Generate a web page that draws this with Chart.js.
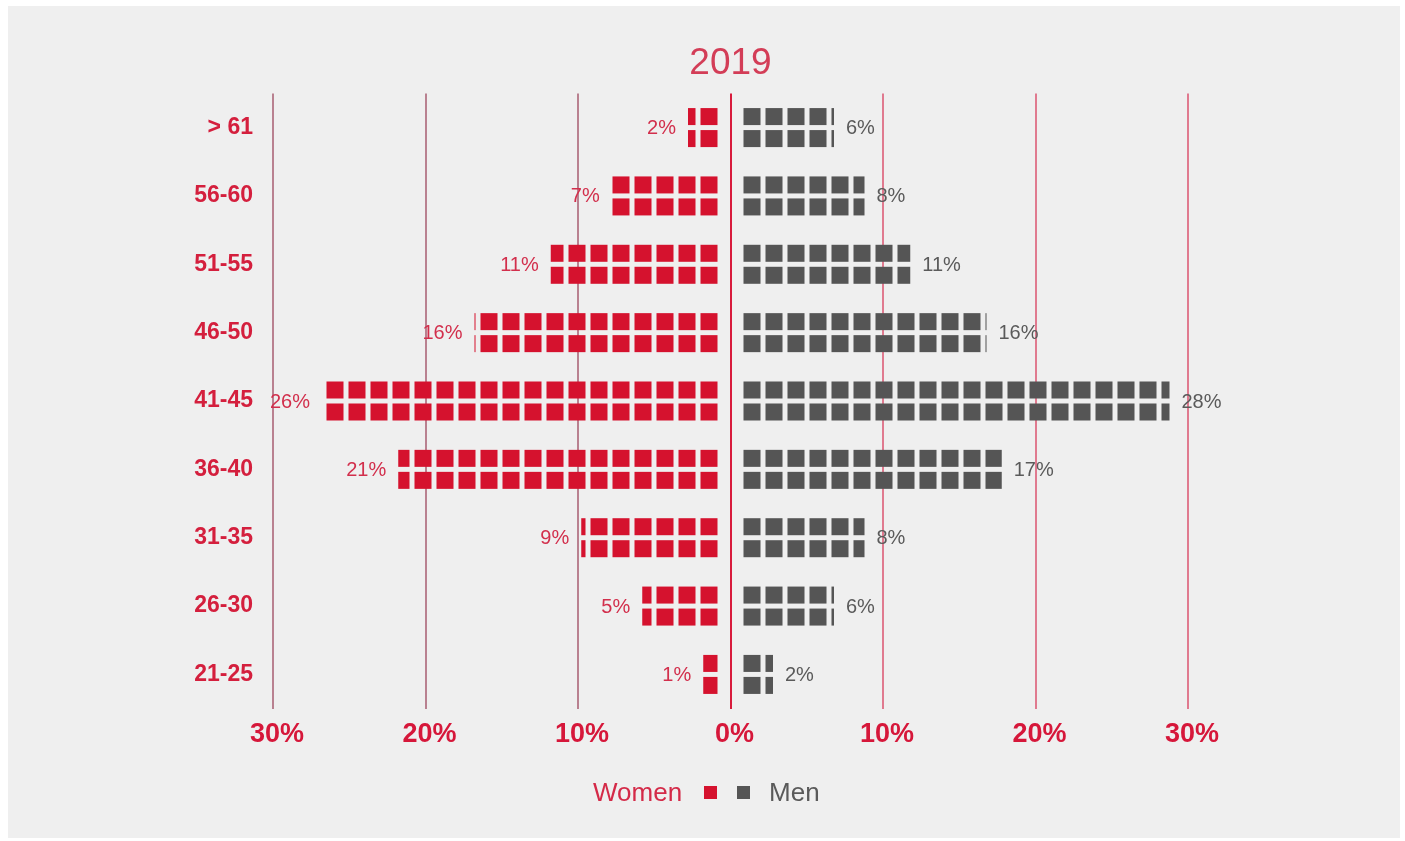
<!DOCTYPE html>
<html>
<head>
<meta charset="utf-8">
<title>2019</title>
<script src="https://cdn.jsdelivr.net/npm/chart.js@4.4.1/dist/chart.umd.min.js"></script>
<style>
  html, body { margin: 0; padding: 0; background: #fff; }
  body { width: 1405px; height: 841px; position: relative; overflow: hidden; font-family: "Liberation Sans", Arial, sans-serif; }
  .panel { position: absolute; left: 8px; top: 6px; width: 1392px; height: 832px; background: #efefef; }
  #pyramid { position: absolute; left: 0; top: 0; }
  .legend { position: absolute; left: 593px; top: 776px; height: 32px; display: flex; align-items: center; font-size: 26px; }
  .legend .women { color: #d42a48; margin-right: 22px; }
  .legend .men { color: #5a5a5a; margin-left: 19px; }
  .legend .sq { width: 13px; height: 13px; display: inline-block; }
</style>
</head>
<body>
<div class="panel"></div>
<canvas id="pyramid" width="1405" height="841"></canvas>
<div class="legend">
  <span class="women">Women</span>
  <span class="sq" style="background:#d5122e; margin-right:20px"></span>
  <span class="sq" style="background:#555"></span>
  <span class="men">Men</span>
</div>

<script>
// age brackets, top to bottom
const ageGroups = ['> 61', '56-60', '51-55', '46-50', '41-45', '36-40', '31-35', '26-30', '21-25'];
// share of staff per bracket, in %
const women = [2, 7, 11, 16, 26, 21, 9, 5, 1];
const men = [6, 8, 11, 16, 28, 17, 8, 6, 2];
const xTicks = [-30, -20, -10, 0, 10, 20, 30];

const FONT = '"Liberation Sans", Arial, sans-serif';
const RED = '#d5122e';
const GREY = '#555555';

// square pictogram geometry
const SQ = 17;       // square side
const PITCH = 22;    // square + gap
const GAP = 12;      // space between the 0% line and the first square
const LABEL_GAP = 12;

// draws every bar as two rows of squares, plus its value label
const pictogram = {
  id: 'pictogram',
  afterDatasetsDraw(chart) {
    const ctx = chart.ctx;
    chart.data.datasets.forEach((ds, di) => {
      const meta = chart.getDatasetMeta(di);
      meta.data.forEach((bar, i) => {
        const { x, y, base, height } = bar.getProps(['x', 'y', 'base', 'height'], true);
        const dir = x < base ? -1 : 1;
        const inner = base + dir * GAP;
        const outer = x + dir * GAP;
        const len = Math.abs(outer - inner);
        const top = y - height / 2;

        ctx.save();
        ctx.fillStyle = ds.squareColor;
        for (let off = 0; off < len; off += PITCH) {
          const w = Math.min(SQ, len - off);
          const sx = dir > 0 ? inner + off : inner - off - w;
          ctx.fillRect(sx, top, w, SQ);
          ctx.fillRect(sx, top + PITCH, w, SQ);
        }

        ctx.fillStyle = ds.labelColor;
        ctx.font = '20px ' + FONT;
        ctx.textAlign = dir > 0 ? 'left' : 'right';
        ctx.textBaseline = 'middle';
        ctx.fillText(Math.abs(ds.data[i]) + '%', outer + dir * LABEL_GAP, y + 1);
        ctx.restore();
      });
    });
  }
};

new Chart(document.getElementById('pyramid'), {
  type: 'bar',
  data: {
    labels: ageGroups,
    datasets: [
      {
        label: 'Women',
        data: women.map(v => -v),
        backgroundColor: 'rgba(0,0,0,0)',
        squareColor: RED,
        labelColor: '#d22f4c',
        barThickness: 39
      },
      {
        label: 'Men',
        data: men,
        backgroundColor: 'rgba(0,0,0,0)',
        squareColor: GREY,
        labelColor: '#5a5a5a',
        barThickness: 39
      }
    ]
  },
  options: {
    indexAxis: 'y',
    responsive: false,
    animation: false,
    devicePixelRatio: 1,
    layout: { padding: { left: 0, right: 217, top: 0, bottom: 80 } },
    plugins: {
      legend: { display: false },
      tooltip: { enabled: false },
      title: {
        display: true,
        text: '2019',
        fullSize: false,
        color: '#d33d57',
        font: { family: FONT, size: 37, weight: 'normal' },
        padding: { top: 42, bottom: 7 }
      }
    },
    scales: {
      x: {
        type: 'linear',
        min: -30,
        max: 30,
        stacked: true,
        afterBuildTicks: s => { s.ticks = xTicks.map(v => ({ value: v })); },
        border: { display: false },
        grid: {
          drawTicks: false,
          lineWidth: 2,
          color: c => c.tick.value === 0 ? '#d81b3c' : (c.tick.value < 0 ? '#b98190' : '#e07a8f')
        },
        ticks: {
          padding: 10,
          labelOffset: 4,
          color: '#d6173a',
          font: { family: FONT, size: 27, weight: 'bold' },
          callback: v => Math.abs(v) + '%'
        }
      },
      y: {
        stacked: true,
        afterFit: s => { s.width = 273; },
        border: { display: false },
        grid: { display: false, drawTicks: false },
        ticks: {
          padding: 20,
          color: '#d41f3d',
          font: { family: FONT, size: 23, weight: 'bold' }
        }
      }
    }
  },
  plugins: [pictogram]
});
</script>
</body>
</html>
